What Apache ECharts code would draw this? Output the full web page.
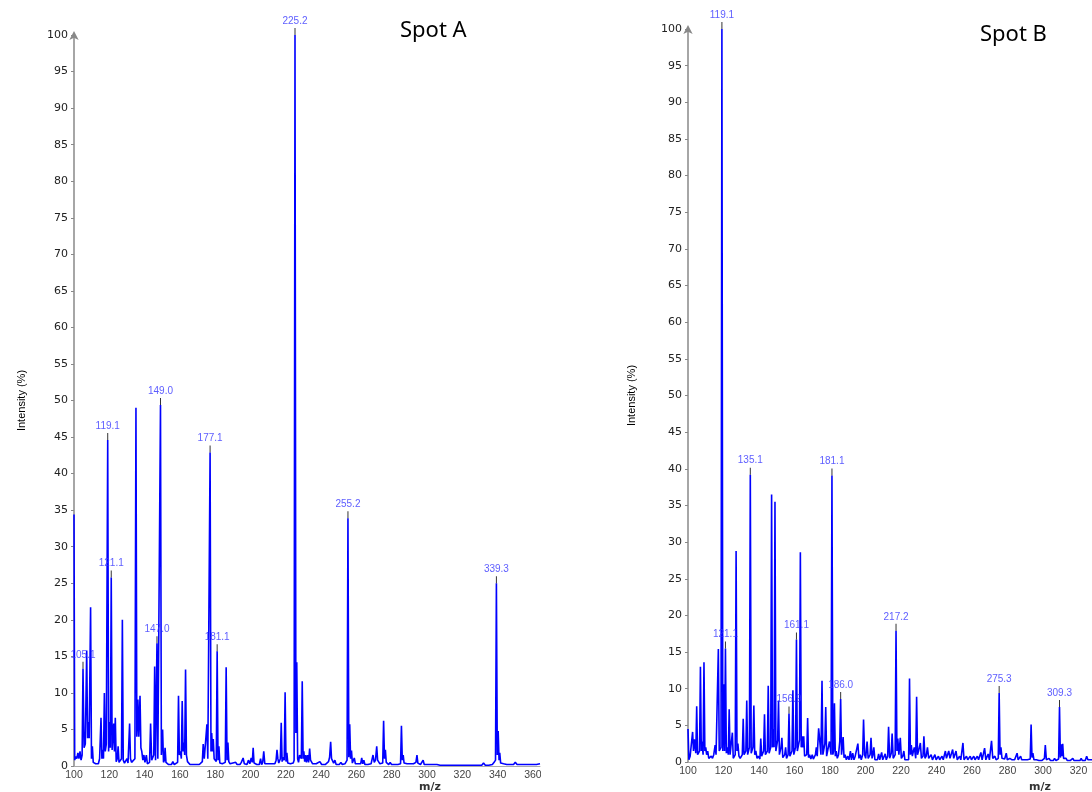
<!DOCTYPE html>
<html>
<head>
<meta charset="utf-8">
<script src="https://cdn.jsdelivr.net/npm/echarts@6/dist/echarts.min.js"></script>
<style>
  html, body { margin: 0; padding: 0; background: #fff; }
  #chart { width: 1092px; height: 792px; }
</style>
</head>
<body>
<div id="chart"></div>
<script>
// spectrum profiles: [m/z, intensity %]
const spotA = [
  [100.0,34.4],[100.4,0.8],[101.0,1.3],[101.6,1.0],[102.2,1.8],[102.8,1.0],[103.4,2.0],[104.0,0.8],[104.6,1.5],
  [105.1,13.3],[105.7,2.5],[106.4,3.0],[107.2,15.8],[107.7,3.8],[108.1,6.0],[108.6,3.8],[109.4,21.7],[109.9,1.0],
  [110.4,2.7],[110.9,0.5],[111.6,0.6],[112.3,0.3],[113.0,0.5],[113.8,0.3],[114.5,1.0],[115.3,6.6],[115.8,1.0],
  [116.2,2.2],[116.7,1.0],[117.2,10.0],[117.7,2.0],[118.3,3.0],[119.1,44.6],[119.6,2.0],[120.2,6.0],[120.6,2.5],
  [121.1,25.8],[121.6,2.2],[122.5,5.8],[122.9,2.0],[123.4,6.6],[123.9,0.6],[124.5,1.0],[125.0,2.7],[125.5,0.5],
  [126.3,0.4],[126.9,1.0],[127.4,20.0],[127.9,0.8],[128.6,0.4],[129.3,0.3],[130.0,1.0],[130.6,0.4],[131.5,5.8],
  [132.0,1.0],[132.6,0.5],[133.3,0.4],[134.5,1.0],[135.1,49.0],[135.6,4.0],[136.2,9.1],[136.7,4.0],[137.4,9.6],
  [137.9,2.5],[138.4,2.0],[139.0,0.8],[139.6,1.5],[140.2,0.5],[141.0,1.5],[141.6,0.3],[142.8,0.5],[143.4,5.8],
  [144.0,0.8],[145.2,1.5],[145.7,13.6],[146.2,0.8],[146.6,1.0],[147.0,16.8],[147.5,1.0],[148.5,0.8],[149.0,49.4],
  [149.5,1.5],[150.2,5.0],[150.7,0.5],[151.2,0.8],[151.6,2.5],[152.1,0.5],[152.8,0.4],[153.6,0.2],[154.4,0.3],
  [155.2,0.2],[156.0,0.6],[156.8,0.2],[157.6,0.3],[158.7,0.5],[159.2,9.6],[159.7,1.5],[160.3,2.0],[160.8,1.0],
  [161.3,8.9],[161.8,2.0],[162.3,3.2],[162.7,1.5],[163.2,13.2],[163.7,1.5],[164.3,0.6],[165.0,0.8],[165.7,0.2],
  [166.5,0.3],[167.3,0.2],[168.1,0.3],[169.0,0.2],[170.0,0.3],[171.0,0.2],[172.0,0.3],[172.7,0.6],[173.2,3.0],
  [173.8,1.0],[174.8,1.0],[175.3,5.7],[175.8,1.0],[176.6,1.0],[177.1,42.9],[177.6,2.0],[178.0,4.5],[178.5,2.0],
  [178.9,3.7],[179.4,1.0],[180.0,1.2],[180.6,0.6],[181.1,15.7],[181.6,0.8],[182.1,2.7],[182.6,0.4],[183.3,0.2],
  [184.0,0.3],[185.7,0.5],[186.2,13.5],[186.7,0.8],[187.2,3.2],[187.7,0.6],[188.4,0.3],[189.2,0.2],[190.0,0.4],
  [190.8,0.2],[191.6,0.5],[192.4,0.2],[193.2,0.3],[194.0,0.2],[194.8,0.5],[195.8,1.1],[196.5,0.3],[197.3,0.5],
  [198.0,0.2],[198.8,0.8],[199.6,0.3],[200.4,1.1],[201.0,0.5],[201.5,2.5],[202.0,0.4],[202.8,0.3],[203.6,0.2],
  [204.4,0.4],[205.0,0.2],[205.7,1.0],[206.3,0.2],[206.9,0.5],[207.5,2.0],[208.1,0.3],[209.0,0.2],[210.0,0.3],
  [211.0,0.2],[212.0,0.3],[213.0,0.2],[213.8,0.3],[214.5,0.8],[215.0,2.2],[215.5,1.0],[216.0,0.4],[216.9,1.0],
  [217.4,5.9],[217.9,0.6],[218.5,1.2],[219.1,0.8],[219.6,10.1],[220.1,0.6],[220.6,1.8],[221.1,0.4],[221.8,0.2],
  [222.6,0.3],[223.4,0.2],[224.2,0.4],[224.7,0.8],[225.2,100],[225.7,4.5],[226.2,14.2],[226.7,1.0],[227.2,0.5],
  [227.8,1.5],[228.8,1.0],[229.3,11.6],[229.8,1.0],[230.2,2.0],[230.7,0.6],[231.2,1.5],[231.7,0.5],[232.3,1.5],
  [232.9,0.5],[233.5,2.4],[234.0,0.8],[234.6,1.0],[235.2,0.3],[236.2,0.2],[237.2,0.3],[238.2,0.2],[239.3,0.6],
  [240.3,0.2],[241.3,0.3],[242.3,0.2],[243.3,0.3],[244.2,0.6],[244.8,1.2],[245.4,3.3],[245.9,1.0],[246.5,1.0],
  [247.1,0.4],[247.8,0.8],[248.5,0.2],[249.4,0.3],[250.3,0.2],[251.2,0.5],[252.0,0.2],[252.8,0.4],[253.5,0.3],
  [254.7,0.8],[255.2,33.9],[255.7,1.2],[256.2,5.7],[256.7,1.0],[257.2,2.1],[257.7,0.4],[258.3,0.6],[258.8,1.1],
  [259.4,0.3],[260.1,0.2],[260.8,0.3],[261.6,0.2],[262.4,0.3],[263.0,1.1],[263.6,0.3],[264.2,0.8],[264.8,0.2],
  [265.6,0.3],[266.5,0.2],[267.4,0.2],[268.3,0.3],[268.9,0.4],[269.4,1.5],[270.1,0.5],[270.8,0.8],[271.5,2.7],
  [272.0,0.8],[272.6,1.0],[273.3,0.3],[274.9,0.4],[275.4,6.2],[275.9,1.0],[276.4,2.2],[276.9,0.5],[277.5,0.3],
  [278.3,0.2],[279.1,0.5],[279.9,0.2],[280.8,0.3],[281.7,0.2],[282.6,0.3],[283.5,0.2],[285.0,0.3],[285.5,5.5],
  [286.0,0.8],[286.5,1.5],[287.0,0.4],[287.8,0.2],[288.7,0.3],[289.6,0.2],[290.5,0.3],[291.4,0.2],[292.3,0.3],
  [293.1,0.2],[293.7,0.5],[294.3,1.5],[294.8,0.4],[295.5,0.3],[296.3,0.2],[297.1,0.3],[297.8,0.8],[298.4,0.2],
  [299.3,0.3],[300.2,0.2],[301.1,0.4],[302.0,0.2],[302.9,0.4],[303.8,0.2],[304.7,0.3],[305.6,0.2],[306.5,0.2],
  [307.4,0.1],[308.3,0.2],[309.2,0.1],[310.1,0.2],[311.0,0.1],[312.0,0.2],[313.0,0.1],[314.0,0.2],[315.0,0.1],
  [316.0,0.2],[317.0,0.1],[318.0,0.2],[319.0,0.1],[320.0,0.2],[321.0,0.1],[322.0,0.2],[323.0,0.1],[324.0,0.3],
  [325.0,0.1],[326.0,0.2],[327.0,0.1],[328.0,0.3],[329.0,0.1],[330.0,0.2],[331.0,0.1],[332.0,0.4],[333.0,0.1],
  [334.0,0.2],[335.0,0.1],[336.0,0.2],[337.0,0.2],[338.0,0.5],[338.8,0.8],[339.3,25.0],[339.8,1.5],[340.3,4.8],
  [340.8,0.8],[341.2,1.8],[341.7,0.4],[342.5,0.2],[343.4,0.3],[344.3,0.2],[345.2,0.2],[346.1,0.3],[347.0,0.2],
  [348.0,0.3],[349.0,0.2],[350.0,0.5],[351.0,0.2],[352.0,0.4],[353.0,0.2],[354.0,0.4],[355.0,0.2],[356.0,0.3],
  [357.0,0.2],[358.0,0.3],[359.0,0.2],[360.0,0.3],[362.0,0.2],[364.0,0.3]
];

const spotB = [
  [100.0,4.5],[100.5,0.3],[101.2,0.8],[102.6,4.1],[103.1,1.5],[103.6,3.1],[104.4,1.2],[104.9,7.6],[105.4,1.0],
  [106.5,1.5],[107.0,13.0],[107.5,1.5],[107.9,2.8],[108.5,1.0],[109.0,13.6],[109.5,1.5],[110.0,2.0],[110.5,1.0],
  [111.1,1.5],[111.7,0.5],[112.4,0.3],[113.1,0.8],[113.8,0.5],[114.5,1.0],[115.3,2.3],[115.8,1.0],[116.6,1.2],
  [117.1,15.4],[117.6,1.5],[118.6,2.0],[119.1,100],[119.6,1.5],[120.1,10.6],[120.6,1.5],[121.1,15.5],[121.6,1.2],
  [122.2,2.0],[122.7,1.0],[123.2,7.2],[123.7,1.0],[124.5,1.2],[125.0,4.0],[125.5,0.5],[126.6,1.0],[127.1,28.8],
  [127.6,1.5],[128.1,2.5],[128.7,0.8],[129.4,0.5],[130.6,1.0],[131.1,5.9],[131.6,1.0],[132.6,1.5],[133.1,8.4],
  [133.6,1.0],[134.6,2.0],[135.1,39.2],[135.6,1.2],[136.6,2.0],[137.1,7.7],[137.6,1.0],[138.2,1.5],[138.9,0.5],
  [139.6,0.8],[140.5,0.4],[141.0,3.2],[141.5,0.8],[142.6,1.5],[143.1,6.5],[143.6,1.0],[144.7,1.5],[145.2,10.4],
  [145.7,1.2],[146.6,2.0],[147.1,36.5],[147.6,2.0],[148.1,4.5],[148.5,2.0],[149.0,35.5],[149.5,1.5],[150.5,3.0],
  [151.0,8.4],[151.5,1.0],[152.4,2.0],[152.9,3.3],[153.4,0.6],[154.5,1.0],[155.0,2.0],[155.5,0.5],[156.4,1.0],
  [156.9,6.6],[157.4,0.8],[158.6,1.5],[159.1,9.8],[159.6,1.0],[160.6,2.0],[161.1,16.7],[161.6,1.5],[162.8,3.0],
  [163.3,28.6],[163.8,2.0],[164.3,3.5],[164.8,2.0],[165.2,3.5],[165.7,0.8],[166.9,1.0],[167.4,6.0],[167.9,0.6],
  [168.5,1.0],[169.2,0.4],[170.0,1.0],[170.6,0.4],[171.8,1.0],[172.3,2.0],[172.8,0.8],[173.6,4.6],[174.1,3.3],
  [174.9,1.0],[175.5,11.1],[176.0,1.0],[177.1,2.5],[177.6,7.5],[178.1,0.8],[179.2,1.0],[179.7,2.8],[180.6,1.0],
  [181.1,39.1],[181.6,1.0],[182.0,1.5],[182.5,8.0],[183.0,0.8],[183.5,1.5],[184.1,0.5],[184.8,1.0],[185.5,2.8],
  [186.0,8.6],[186.5,1.0],[186.9,1.2],[187.4,3.4],[187.9,0.6],[188.5,1.0],[189.2,0.3],[190.0,0.8],[190.7,0.3],
  [191.5,1.5],[192.1,0.3],[192.8,1.2],[193.5,0.3],[194.2,0.8],[195.2,0.6],[195.7,2.5],[196.3,0.5],[197.0,1.0],
  [197.6,0.3],[198.4,1.0],[198.9,5.8],[199.5,1.0],[200.1,0.5],[200.9,2.8],[201.5,0.5],[202.6,1.0],[203.1,3.3],
  [203.7,0.5],[204.2,1.0],[204.7,2.0],[205.3,0.3],[206.0,0.5],[206.7,0.3],[207.4,1.1],[208.0,0.3],[208.5,0.5],
  [209.1,1.3],[209.7,0.3],[210.4,0.5],[211.1,1.1],[211.7,0.3],[212.5,0.8],[213.0,4.8],[213.6,0.5],[214.5,1.2],
  [215.0,3.9],[215.6,0.5],[216.7,1.0],[217.2,17.9],[217.7,1.5],[218.2,3.2],[218.8,1.0],[219.6,3.3],[220.2,0.5],
  [221.0,0.8],[221.6,1.5],[222.2,0.3],[223.0,0.4],[224.3,0.3],[224.8,11.4],[225.3,1.0],[225.8,2.3],[226.4,0.8],
  [227.0,1.5],[227.5,2.0],[228.3,0.5],[228.8,8.9],[229.3,1.0],[229.9,1.5],[230.9,2.6],[231.5,0.5],[232.4,0.8],
  [232.9,3.5],[233.5,0.5],[234.2,0.8],[234.9,2.0],[235.6,0.5],[236.3,0.3],[237.0,1.0],[237.7,0.3],[238.4,0.4],
  [239.1,1.0],[239.8,0.3],[240.5,0.3],[241.1,0.8],[241.8,0.3],[242.5,0.3],[243.1,0.8],[243.8,0.3],[244.4,0.5],
  [245.0,1.5],[245.6,0.5],[246.3,0.5],[246.9,1.5],[247.6,0.5],[248.4,0.5],[249.1,1.7],[249.7,0.5],[250.4,0.4],
  [251.0,1.5],[251.7,0.3],[252.4,0.3],[253.0,0.8],[253.7,0.3],[254.4,0.4],[254.9,2.6],[255.5,0.3],[256.2,0.3],
  [256.9,0.8],[257.6,0.3],[258.3,0.3],[259.0,0.8],[259.7,0.3],[260.4,0.3],[261.0,0.8],[261.7,0.3],[262.3,0.3],
  [263.0,0.8],[263.7,0.3],[264.3,0.3],[265.0,1.3],[265.7,0.3],[266.4,0.4],[267.1,1.9],[267.8,0.3],[268.4,0.3],
  [269.1,1.1],[269.8,0.3],[270.5,0.5],[271.0,2.9],[271.7,0.5],[272.3,0.4],[272.9,0.8],[273.6,0.3],[274.8,0.5],
  [275.3,9.4],[275.8,1.0],[276.3,2.0],[276.9,0.5],[277.6,0.3],[278.4,0.4],[279.3,1.2],[279.9,0.3],[280.6,0.3],
  [281.3,0.5],[282.0,0.3],[282.6,0.3],[283.3,0.5],[284.0,0.3],[284.6,0.4],[285.4,1.2],[286.0,0.3],[286.7,0.3],
  [287.4,0.8],[288.0,0.3],[288.8,0.2],[289.6,0.3],[290.4,0.2],[291.2,0.3],[292.0,0.2],[292.8,0.4],[293.3,5.1],
  [293.8,0.6],[294.3,1.2],[294.9,0.3],[295.6,0.2],[296.3,0.3],[297.0,0.5],[297.7,0.2],[298.5,0.3],[299.3,0.2],
  [300.2,0.3],[300.8,0.5],[301.3,2.3],[301.9,0.3],[302.6,0.3],[303.4,0.5],[304.2,0.2],[305.0,0.3],[305.8,0.2],
  [306.5,0.5],[307.3,0.2],[308.0,0.3],[308.8,0.4],[309.3,7.5],[309.8,0.6],[310.3,2.4],[310.7,0.8],[311.1,2.5],
  [311.6,0.5],[312.3,0.3],[313.0,0.5],[313.7,0.2],[314.5,0.3],[315.3,0.2],[316.1,0.3],[316.8,0.5],[317.5,0.2],
  [318.3,0.3],[319.1,0.2],[320.0,0.3],[320.8,0.2],[321.5,0.5],[322.2,0.2],[323.0,0.3],[323.8,0.2],[324.6,0.8],
  [325.3,0.3],[326.0,0.2],[327.0,0.3],[328.0,0.2],[329.0,0.3],[330.0,0.2]
];

// annotated peaks
const peaksA_mz = [105.1, 119.1, 121.1, 147.0, 149.0, 177.1, 181.1, 225.2, 255.2, 339.3];
const peaksA_int = [13.3, 44.6, 25.8, 16.8, 49.4, 42.9, 15.7, 100, 33.9, 25.0];
const peaksB_mz = [119.1, 121.1, 135.1, 156.9, 161.1, 181.1, 186.0, 217.2, 275.3, 309.3];
const peaksB_int = [100, 15.5, 39.2, 6.6, 16.7, 39.1, 8.6, 17.9, 9.4, 7.5];

const titles = ['Spot A', 'Spot B'];

const blue = '#0000ff';
const labelBlue = '#3333ff';

function peakData(mz, ints) {
  return mz.map((m, i) => [m, ints[i]]);
}

function xAxisFor(gridIndex, max) {
  return {
    type: 'value',
    gridIndex: gridIndex,
    min: 100,
    max: max,
    interval: 20,
    axisLine: { show: true, lineStyle: { color: '#aaa', width: 1 } },
    axisTick: { show: false },
    splitLine: { show: false },
    axisLabel: {
      margin: 4,
      fontSize: 10.5,
      fontFamily: 'Liberation Sans',
      color: '#444',
      formatter: (v) => (v % 20 === 0 ? String(v) : ''),
    },
  }
}

function yAxisFor(gridIndex, gap) {
  return {
    type: 'value',
    gridIndex: gridIndex,
    min: 0,
    max: 100,
    interval: 5,
    name: 'Intensity (%)',
    nameLocation: 'middle',
    nameGap: gap,
    nameTextStyle: { fontSize: 11, fontFamily: 'Liberation Sans', color: '#000' },
    axisLine: {
      show: true,
      symbol: ['none', 'arrow'],
      symbolSize: [7, 9],
      symbolOffset: [0, 4],
      lineStyle: { color: '#888', width: 1.5 },
    },
    axisTick: { show: true, length: 3, lineStyle: { color: '#888' } },
    splitLine: { show: false },
    axisLabel: { margin: 6, fontSize: 11, fontFamily: 'DejaVu Sans', color: '#222' },
  }
}

function spectrum(idx, data) {
  return {
    type: 'line',
    xAxisIndex: idx,
    yAxisIndex: idx,
    data: data,
    showSymbol: false,
    symbol: 'none',
    lineStyle: { color: blue, width: 1.6 },
    itemStyle: { color: blue },
    z: 2,
  }
}

function peakLabels(idx, data) {
  return {
    type: 'scatter',
    xAxisIndex: idx,
    yAxisIndex: idx,
    data: data,
    symbol: 'rect',
    symbolSize: [1, 7],
    symbolOffset: [0, -3.5],
    itemStyle: { color: '#000' },
    label: {
      show: true,
      position: 'top',
      distance: 2,
      fontSize: 10,
      fontFamily: 'Liberation Sans',
      color: labelBlue,
      formatter: (p) => p.value[0].toFixed(1),
    },
    z: 3,
  }
}

const chart = echarts.init(document.getElementById('chart'))
chart.setOption({
  animation: false,
  backgroundColor: '#fff',
  grid: [
    { left: 74, top: 35, bottom: 26, width: 466, outerBoundsMode: 'none' },
    { left: 688, top: 29, bottom: 30, width: 426, outerBoundsMode: 'none' },
  ],
  xAxis: [xAxisFor(0, 364), xAxisFor(1, 340)],
  yAxis: [yAxisFor(0, 47), yAxisFor(1, 51)],
  series: [
    spectrum(0, spotA),
    spectrum(1, spotB),
    peakLabels(0, peakData(peaksA_mz, peaksA_int)),
    peakLabels(1, peakData(peaksB_mz, peaksB_int)),
  ],
  graphic: [
    // the left picture is cut just after the 360 label
    { type: 'rect', left: 541, top: 767, shape: { width: 40, height: 25 }, style: { fill: '#fff' }, z: 100 },
    { type: 'text', left: 400, top: 20, style: { text: titles[0], fontSize: 22, fontFamily: 'Noto Sans', fill: '#000' } },
    { type: 'text', left: 980, top: 24, style: { text: titles[1], fontSize: 22, fontFamily: 'Noto Sans', fill: '#000' } },
    { type: 'text', left: 419, top: 782, style: { text: 'm/z', fontSize: 11, fontWeight: 'bold', fontFamily: 'DejaVu Sans', fill: '#333' } },
    { type: 'text', left: 1029, top: 782, style: { text: 'm/z', fontSize: 11, fontWeight: 'bold', fontFamily: 'DejaVu Sans', fill: '#333' } },
  ],
})
</script>
</body>
</html>
